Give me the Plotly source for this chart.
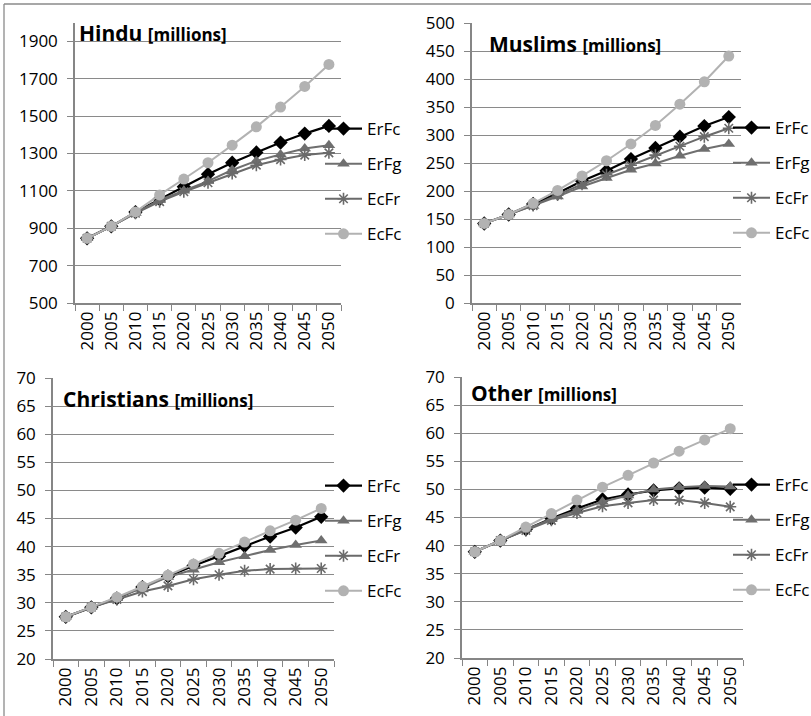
import plotly.graph_objects as go

years = ["2000", "2005", "2010", "2015", "2020", "2025", "2030", "2035", "2040", "2045", "2050"]
series_names = ["ErFc", "ErFg", "EcFr", "EcFc"]

hindu_ErFc = [846, 910, 986, 1056, 1122, 1189, 1250, 1305, 1358, 1406, 1447]
hindu_ErFg = [846, 910, 981, 1051, 1100, 1152, 1211, 1260, 1294, 1326, 1344]
hindu_EcFr = [846, 910, 980, 1042, 1095, 1143, 1193, 1237, 1267, 1291, 1303]
hindu_EcFc = [846, 910, 987, 1078, 1163, 1250, 1344, 1442, 1548, 1658, 1776]

muslim_ErFc = [142, 158, 177, 196, 218, 236, 257, 277, 297, 316, 332]
muslim_ErFg = [142, 158, 173, 190, 208, 223, 238, 249, 263, 275, 284]
muslim_EcFr = [142, 158, 174, 193, 212, 229, 246, 264, 280, 297, 312]
muslim_EcFc = [142, 158, 178, 201, 227, 254, 284, 317, 355, 395, 441]

christ_ErFc = [27.5, 29.2, 30.8, 32.8, 34.7, 36.6, 38.3, 40.1, 41.8, 43.4, 45.3]
christ_ErFg = [27.5, 29.2, 30.8, 32.6, 34.6, 35.9, 37.2, 38.3, 39.4, 40.3, 41.1]
christ_EcFr = [27.5, 29.2, 30.6, 32.0, 33.0, 34.2, 35.0, 35.7, 36.0, 36.1, 36.1]
christ_EcFc = [27.5, 29.2, 31.0, 32.9, 34.9, 36.9, 38.8, 40.8, 42.8, 44.7, 46.8]

other_ErFc = [38.9, 40.9, 42.9, 44.8, 46.6, 48.2, 49.1, 49.8, 50.2, 50.3, 50.1]
other_ErFg = [38.9, 40.9, 42.9, 44.7, 46.3, 47.8, 48.9, 50.0, 50.4, 50.6, 50.5]
other_EcFr = [38.9, 40.9, 42.7, 44.5, 45.8, 47.0, 47.6, 48.1, 48.1, 47.6, 46.9]
other_EcFc = [38.9, 40.9, 43.3, 45.7, 48.1, 50.4, 52.5, 54.7, 56.8, 58.8, 60.8]

panel_titles = ["Hindu", "Muslims", "Christians", "Other"]
panel_data = [
    [hindu_ErFc, hindu_ErFg, hindu_EcFr, hindu_EcFc],
    [muslim_ErFc, muslim_ErFg, muslim_EcFr, muslim_EcFc],
    [christ_ErFc, christ_ErFg, christ_EcFr, christ_EcFc],
    [other_ErFc, other_ErFg, other_EcFr, other_EcFc],
]
y_ranges = [(500, 2000, 200), (0, 500, 50), (20, 70, 5), (20, 70, 5)]

W, H = 811, 716
FONT = "Open Sans"
GRID = "#8a8a8a"
AXIS = "#868686"

# pixel boxes (left, right, top, bottom)
boxes = [(75, 341, 22.5, 303), (472, 741, 23, 303), (53, 334, 378, 659), (462, 743, 377, 658)]
title_pos = [(77, 33), (487, 44), (61, 399), (469, 393)]
legend_pos = [(320, 111), (728, 110), (320, 468), (728, 467)]

styles = [
    dict(color="#000000", symbol="diamond", size=11, lw=2.2),
    dict(color="#6f6f6f", symbol="triangle-up", size=11, lw=2.0),
    dict(color="#6a6a6a", symbol="asterisk-open", size=10, lw=2.0),
    dict(color="#b2b2b2", symbol="circle", size=11, lw=2.0),
]

fig = go.Figure()
for p in range(4):
    sfx = "" if p == 0 else str(p + 1)
    leg = "legend" + sfx
    for s in range(4):
        st = styles[s]
        marker = dict(symbol=st["symbol"], size=st["size"], color=st["color"])
        if st["symbol"] == "asterisk-open":
            marker["line"] = dict(color=st["color"], width=1.6)
        fig.add_trace(go.Scatter(
            x=years, y=panel_data[p][s], name=series_names[s],
            mode="lines+markers",
            line=dict(color=st["color"], width=st["lw"]),
            marker=marker,
            xaxis="x" + sfx, yaxis="y" + sfx,
            legend=leg, legendgroup=f"g{p}_{s}",
        ))

layout = dict(
    width=W, height=H, margin=dict(l=0, r=0, t=0, b=0, autoexpand=False),
    paper_bgcolor="white", plot_bgcolor="white",
    font=dict(family=FONT, size=17, color="#000000"),
    showlegend=True,
)
annotations = []
shapes = []
for p in range(4):
    sfx = "" if p == 0 else str(p + 1)
    l, r, t, b = boxes[p]
    lo, hi, dt = y_ranges[p]
    layout["xaxis" + sfx] = dict(
        domain=[l / W, r / W], anchor="y" + sfx, type="category",
        categoryorder="array", categoryarray=years,
        range=[-0.5, 10.5], tickson="boundaries", ticks="outside", ticklen=6,
        tickcolor=AXIS, tickwidth=1.3, showline=True, linecolor=AXIS, linewidth=1.5,
        showgrid=False, tickangle=-90, tickfont=dict(size=17, family=FONT),
        fixedrange=True, automargin=False,
    )
    layout["yaxis" + sfx] = dict(
        domain=[1 - b / H, 1 - t / H], anchor="x" + sfx,
        range=[lo, hi], tick0=lo, dtick=dt, showgrid=True, gridcolor=GRID, gridwidth=1.2,
        ticks="outside", ticklen=6, tickcolor=AXIS, tickwidth=1.3,
        showline=True, linecolor=AXIS, linewidth=1.5, zeroline=False,
        tickfont=dict(size=17, family=FONT), fixedrange=True, automargin=False,
        ticklabelstandoff=6,
    )
    lx, ly = legend_pos[p]
    layout["legend" + sfx] = dict(
        x=lx / W, y=1 - ly / H, xanchor="left", yanchor="top",
        bgcolor="rgba(0,0,0,0)", borderwidth=0,
        font=dict(size=17, family=FONT), tracegroupgap=10, itemwidth=37,
    )
    tx, ty = title_pos[p]
    annotations.append(dict(
        xref="paper", yref="paper", x=tx / W, y=1 - ty / H,
        xanchor="left", yanchor="middle", showarrow=False,
        text=f"<b>{panel_titles[p]}</b> <b><span style='font-size:17px'>[millions]</span></b>",
        font=dict(size=21, family=FONT, color="#000000"),
    ))

# outer frame lines (left and top)
shapes.append(dict(type="line", xref="paper", yref="paper", x0=4 / W, x1=4 / W, y0=0, y1=1 - 4 / H,
                   line=dict(color="#8a8a8a", width=1.3)))
shapes.append(dict(type="line", xref="paper", yref="paper", x0=4 / W, x1=1, y0=1 - 4 / H, y1=1 - 4 / H,
                   line=dict(color="#8a8a8a", width=1.3)))
layout["annotations"] = annotations
layout["shapes"] = shapes
fig.update_layout(**layout)
fig.write_html("out.html")
